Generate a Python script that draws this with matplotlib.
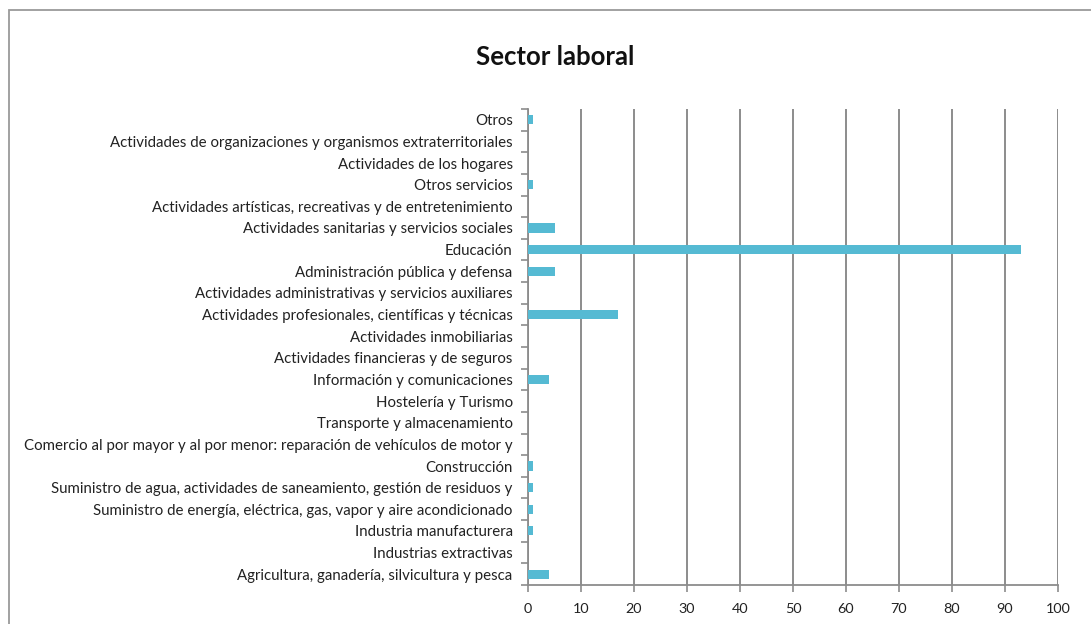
import matplotlib
matplotlib.use("Agg")
import matplotlib.pyplot as plt
from matplotlib.patches import Rectangle
import numpy as np

plt.rcParams["font.family"] = ["Lato", "DejaVu Sans"]

# categorías de abajo hacia arriba
sectores = [
    "Agricultura, ganadería, silvicultura y pesca",
    "Industrias extractivas",
    "Industria manufacturera",
    "Suministro de energía, eléctrica, gas, vapor y aire acondicionado",
    "Suministro de agua, actividades de saneamiento, gestión de residuos y",
    "Construcción",
    "Comercio al por mayor y al por menor: reparación de vehículos de motor y",
    "Transporte y almacenamiento",
    "Hostelería y Turismo",
    "Información y comunicaciones",
    "Actividades financieras y de seguros",
    "Actividades inmobiliarias",
    "Actividades profesionales, científicas y técnicas",
    "Actividades administrativas y servicios auxiliares",
    "Administración pública y defensa",
    "Educación",
    "Actividades sanitarias y servicios sociales",
    "Actividades artísticas, recreativas y de entretenimiento",
    "Otros servicios",
    "Actividades de los hogares",
    "Actividades de organizaciones y organismos extraterritoriales",
    "Otros",
]
valores = [4, 0, 1, 1, 1, 1, 0, 0, 0, 4, 0, 0, 17, 0, 5, 93, 5, 0, 1, 0, 0, 1]
x_ticks = [0, 10, 20, 30, 40, 50, 60, 70, 80, 90, 100]

fig = plt.figure(figsize=(10.91, 6.24), dpi=100)
fig.patches.append(Rectangle((9 / 1091, -0.1), 1.2, 1 - 10 / 624 + 0.1,
                             transform=fig.transFigure, fill=False,
                             edgecolor="#9a9a9a", linewidth=1.3))
ax = fig.add_axes([528 / 1091, 1 - 585 / 624, 530 / 1091, 476 / 624])

pos = np.arange(len(sectores))
ax.barh(pos, valores, height=0.42, color="#55BAD3", zorder=3)

ax.set_xlim(0, 100)
ax.set_ylim(-0.5, len(sectores) - 0.5)
ax.set_xticks(x_ticks)
ax.set_yticks(pos)
ax.set_yticklabels(sectores, fontsize=10.8, color="#222")
ax.set_yticks(np.arange(-0.5, len(sectores), 1), minor=True)
ax.tick_params(axis="y", which="major", length=0, pad=11)
ax.tick_params(axis="y", which="minor", length=5, width=1.2, color="#8c8c8c")
ax.tick_params(axis="x", length=5, width=1.2, color="#8c8c8c", labelsize=10.4,
               labelcolor="#222", pad=8)
ax.grid(axis="x", color="#8c8c8c", linewidth=1.4, zorder=0)

for s in ("top", "right"):
    ax.spines[s].set_visible(False)
for s in ("left", "bottom"):
    ax.spines[s].set_color("#8c8c8c")
    ax.spines[s].set_linewidth(1.3)

fig.text(555 / 1091, 1 - 57 / 624, "Sector laboral", ha="center", va="center",
         fontsize=18.5, fontweight="bold", color="#111")

fig.savefig("out.png", dpi=100, facecolor="white")
